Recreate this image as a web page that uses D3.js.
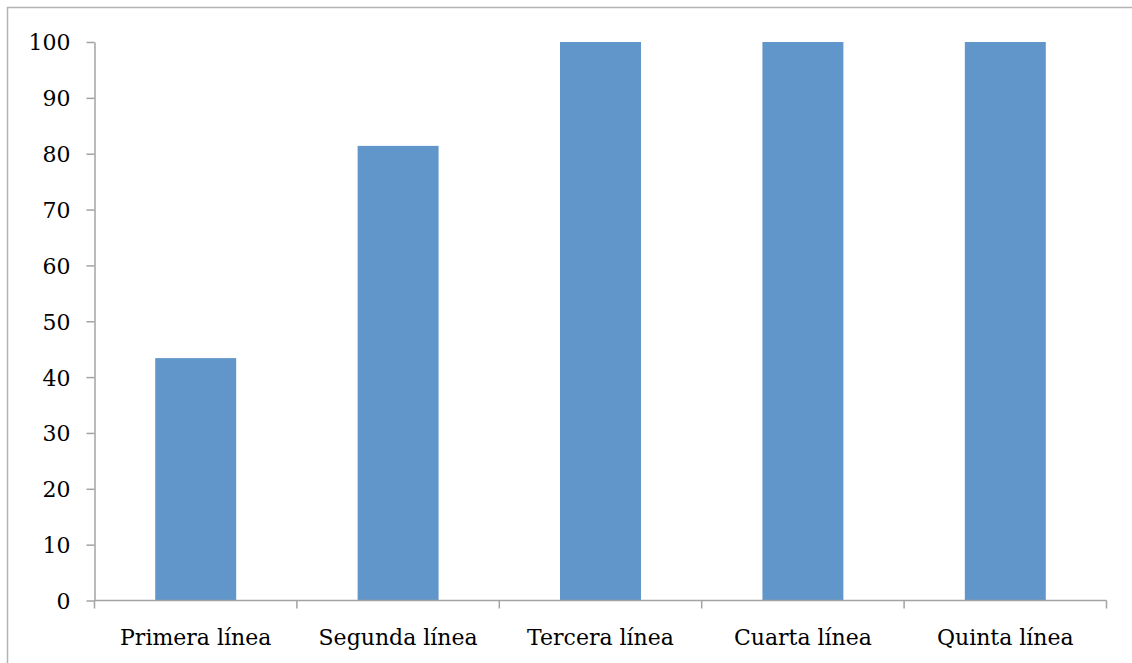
<!DOCTYPE html>
<html>
<head>
<meta charset="utf-8">
<script src="https://cdn.jsdelivr.net/npm/d3@7"></script>
<style>
  html, body { margin: 0; padding: 0; background: #fff; }
  svg { display: block; }
</style>
</head>
<body>
<svg id="chart" width="1132" height="663"></svg>
<script>
// Categories and values (percent)
const categories = ["Primera línea", "Segunda línea", "Tercera línea", "Cuarta línea", "Quinta línea"];
const values = [43.4, 81.4, 100, 100, 100];
const yTicks = [0, 10, 20, 30, 40, 50, 60, 70, 80, 90, 100];

const svg = d3.select("#chart");
const W = 1132, H = 663;
const plotLeft = 94.5, plotRight = 1106.5, plotTop = 42, plotBottom = 600.5;
const fontFamily = "'DejaVu Serif', serif";
const axisColor = "#a3a3a3";

// Outer frame
svg.append("rect")
  .attr("x", 7.5).attr("y", 7.5)
  .attr("width", W).attr("height", H)
  .attr("fill", "none")
  .attr("stroke", "#b3b3b3")
  .attr("stroke-width", 1.5);

const x = d3.scaleBand()
  .domain(categories)
  .range([plotLeft, plotRight])
  .paddingInner(0.6)
  .paddingOuter(0.3);

const y = d3.scaleLinear()
  .domain([0, 100])
  .range([plotBottom, plotTop]);

// Bars
svg.append("g")
  .selectAll("rect")
  .data(categories)
  .join("rect")
  .attr("x", d => x(d))
  .attr("width", x.bandwidth())
  .attr("y", (d, i) => y(values[i]))
  .attr("height", (d, i) => y(0) - y(values[i]))
  .attr("fill", "#6096c9");

// Y axis
const yAxis = svg.append("g")
  .attr("transform", `translate(${plotLeft},0)`)
  .call(d3.axisLeft(y).tickValues(yTicks).tickSize(8).tickPadding(16).tickSizeOuter(0));

// X axis: ticks at band boundaries
const step = x.step();
const boundaries = d3.range(categories.length + 1).map(i => plotLeft + i * step);
const xAxis = svg.append("g").attr("transform", `translate(0,${plotBottom})`);
xAxis.append("line")
  .attr("x1", plotLeft).attr("x2", plotRight)
  .attr("y1", 0).attr("y2", 0);
xAxis.selectAll("line.tick")
  .data(boundaries)
  .join("line")
  .attr("class", "tick")
  .attr("x1", d => d).attr("x2", d => d)
  .attr("y1", 0).attr("y2", 8);
xAxis.selectAll("text")
  .data(categories)
  .join("text")
  .attr("x", d => x(d) + x.bandwidth() / 2)
  .attr("y", 44)
  .attr("text-anchor", "middle")
  .text(d => d);

svg.selectAll("g").selectAll("line, path.domain")
  .attr("stroke", axisColor)
  .attr("stroke-width", 1.5);
svg.selectAll("text")
  .attr("font-family", fontFamily)
  .attr("font-size", 22)
  .attr("fill", "#000");
yAxis.selectAll("text").attr("dy", "0.36em");
</script>
</body>
</html>
